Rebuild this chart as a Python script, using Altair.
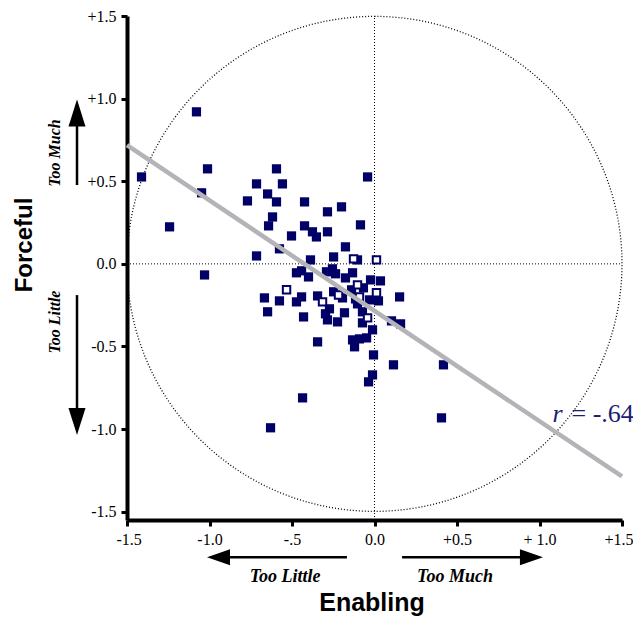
import altair as alt
import pandas as pd

# ---------------- data ----------------
enabling_filled = [-1.412, -1.079, -1.012, -1.048, -1.242, -1.030,
                   -0.715, -0.594, -0.558, -0.648, -0.770, -0.594, -0.424, -0.618, -0.642, -0.424,
                   -0.503, -0.376, -0.352, -0.285, -0.285, -0.200, -0.042, -0.085, -0.576, -0.715,
                   -0.176, -0.388, -0.248, -0.103,
                   -0.473, -0.442, -0.400, -0.291, -0.255, -0.236, -0.133, -0.176, -0.024, 0.036,
                   -0.576, -0.473, -0.442, -0.345, -0.248, -0.194, -0.139, -0.067, -0.115, -0.030,
                   0.024, -0.667, -0.648,
                   -0.430, -0.297, -0.273, -0.285, -0.224, -0.182, -0.103, -0.073, -0.073, 0.103,
                   0.152, 0.158,
                   -0.345, -0.133, -0.121, -0.091, -0.048, -0.012, -0.006, 0.115, -0.012, -0.036,
                   0.418, 0.406, -0.436, -0.630]
forceful_filled = [0.526, 0.920, 0.575, 0.430, 0.224, -0.067,
                   0.484, 0.575, 0.484, 0.423, 0.381, 0.375, 0.375, 0.284, 0.230, 0.230,
                   0.169, 0.194, 0.163, 0.194, 0.315, 0.345, 0.526, 0.236, 0.091, 0.048,
                   0.103, 0.024, 0.042, 0.024,
                   -0.054, -0.042, -0.079, -0.048, -0.030, -0.060, -0.054, -0.085, -0.097, -0.103,
                   -0.224, -0.230, -0.200, -0.194, -0.169, -0.206, -0.157, -0.145, -0.212, -0.218,
                   -0.224, -0.206, -0.290,
                   -0.321, -0.302, -0.272, -0.339, -0.351, -0.296, -0.242, -0.290, -0.357, -0.345,
                   -0.200, -0.363,
                   -0.472, -0.460, -0.502, -0.454, -0.448, -0.399, -0.551, -0.611, -0.672, -0.714,
                   -0.611, -0.932, -0.811, -0.992]
enabling_hollow = [-0.533, -0.315, -0.218, -0.103, -0.091, 0.012, -0.042, -0.127, 0.012]
forceful_hollow = [-0.157, -0.230, -0.188, -0.127, -0.200, -0.175, -0.327, 0.030, 0.024]

fit_x = [-1.5, 1.5]
fit_y = [0.718, -1.286]
r_label = "= -.64"

axis_ticks = [-1.5, -1.0, -0.5, 0.0, 0.5, 1.0, 1.5]
x_tick_labels = ["-1.5", "-1.0", "-.5", "0.0", "+0.5", "+ 1.0", "+1.5"]
y_tick_labels = ["-1.5", "-1.0", "-0.5", "0.0", "+0.5", "+1.0", "+1.5"]

# ---------------- helpers ----------------
NAVY = "#000066"
xs = alt.Scale(domain=[-1.5, 1.5], nice=False, zero=False)
ys = alt.Scale(domain=[-1.55, 1.5], nice=False, zero=False)


def lab_expr(labels):
    arr = "[" + ",".join("'" + s + "'" for s in labels) + "]"
    return arr + "[round((datum.value + 1.5) * 2)]"


axis_style = dict(title=None, grid=False, domainColor="black", domainWidth=4, tickColor="black",
                  tickWidth=3, tickSize=6, labelFont="Liberation Serif", labelFontSize=16,
                  labelColor="black", labelPadding=5, labelOverlap=False, labelBound=False)
x_axis = alt.Axis(values=axis_ticks, labelExpr=lab_expr(x_tick_labels), labelFlush=True,
                  labelFlushOffset=11, **axis_style)
y_axis = alt.Axis(values=axis_ticks, labelExpr=lab_expr(y_tick_labels), labelFlush=False,
                  **axis_style)


def X(field):
    return alt.X(field, type="quantitative", scale=xs, axis=x_axis)


def Y(field):
    return alt.Y(field, type="quantitative", scale=ys, axis=y_axis)


filled_df = pd.DataFrame({"x": enabling_filled, "y": forceful_filled})
hollow_df = pd.DataFrame({"x": enabling_hollow, "y": forceful_hollow})
fit_df = pd.DataFrame({"x": [fit_x[0]], "y": [fit_y[0]], "x2": [fit_x[1]], "y2": [fit_y[1]]})

guides_df = pd.DataFrame({"x": [0.0, -1.5], "y": [-1.55, 0.0], "x2": [0.0, 1.5], "y2": [1.5, 0.0]})
center_df = pd.DataFrame({"x": [0.0], "y": [0.0]})

guides = alt.Chart(guides_df).mark_rule(color="black", strokeWidth=1, strokeDash=[1, 2]).encode(
    x=X("x"), y=Y("y"), x2="x2", y2="y2")

circle = alt.Chart(center_df).mark_arc(
    filled=False, color="black", stroke="black", strokeWidth=1.3, strokeDash=[1, 2],
    radius=247.5, theta=0, theta2=6.2832).encode(x=X("x"), y=Y("y"))

points = alt.Chart(filled_df).mark_square(size=85, color=NAVY, opacity=1).encode(
    x=X("x"), y=Y("y"))

hollow = alt.Chart(hollow_df).mark_point(shape="square", size=55, filled=True, fill="white",
                                         stroke=NAVY, strokeWidth=2, opacity=1).encode(
    x=X("x"), y=Y("y"))

fit = alt.Chart(fit_df).mark_rule(color="#b4b4b8", strokeWidth=4.5).encode(
    x=X("x"), y=Y("y"), x2="x2", y2="y2")

r_df = pd.DataFrame({"x": [1.079], "y": [-0.958], "t": ["r"]})
r2_df = pd.DataFrame({"x": [1.194], "y": [-0.958], "t": [r_label]})
r_text = alt.Chart(r_df).mark_text(font="Liberation Serif", fontStyle="italic", fontSize=26,
                                   color="#1c1c70", align="left", baseline="alphabetic").encode(
    x=X("x"), y=Y("y"), text="t:N")
r2_text = alt.Chart(r2_df).mark_text(font="Liberation Serif", fontSize=26, color="#1c1c70",
                                     align="left", baseline="alphabetic", clip=False).encode(
    x=X("x"), y=Y("y"), text="t:N")

# ---------------- annotations ----------------
side_df = pd.DataFrame({"x": [-1.936, -1.936], "y": [0.671, -0.352], "t": ["Too Much", "Too Little"]})
side_text = alt.Chart(side_df).mark_text(font="Liberation Serif", fontStyle="italic", fontWeight="bold",
                                         fontSize=16, angle=270, align="center", baseline="middle",
                                         color="black", clip=False).encode(x=X("x"), y=Y("y"), text="t:N")

bottom_df = pd.DataFrame({"x": [-0.542, 0.488], "y": [-1.896, -1.896], "t": ["Too Little", "Too Much"]})
bottom_text = alt.Chart(bottom_df).mark_text(font="Liberation Serif", fontStyle="italic", fontWeight="bold",
                                             fontSize=18, align="center", baseline="middle",
                                             color="black", clip=False).encode(x=X("x"), y=Y("y"), text="t:N")

ytitle_df = pd.DataFrame({"x": [-2.118], "y": [0.114], "t": ["Forceful"]})
ytitle = alt.Chart(ytitle_df).mark_text(font="Liberation Sans", fontWeight="bold", fontSize=24, angle=270,
                                        align="center", baseline="middle", color="black", clip=False).encode(
    x=X("x"), y=Y("y"), text="t:N")

xtitle_df = pd.DataFrame({"x": [-0.015], "y": [-2.1], "t": ["Enabling"]})
xtitle = alt.Chart(xtitle_df).mark_text(font="Liberation Sans", fontWeight="bold", fontSize=25,
                                        align="center", baseline="alphabetic", color="black", clip=False).encode(
    x=X("x"), y=Y("y"), text="t:N")

shaft_df = pd.DataFrame({
    "x": [-1.803, -1.803, -0.167, 0.167],
    "y": [0.477, -0.189, -1.775, -1.775],
    "x2": [-1.803, -1.803, -0.95, 0.95],
    "y2": [0.90, -0.95, -1.775, -1.775],
})
shafts = alt.Chart(shaft_df).mark_rule(color="black", strokeWidth=2.5, clip=False).encode(
    x=X("x"), y=Y("y"), x2="x2", y2="y2")


def head(xv, yv, path, size):
    d = pd.DataFrame({"x": [xv], "y": [yv]})
    return alt.Chart(d).mark_point(shape=path, size=size, filled=True, color="black", opacity=1,
                                   clip=False).encode(x=X("x"), y=Y("y"))


heads = [
    head(-1.803, 0.995, "M0,0L-0.63,2L0.63,2Z", 729),
    head(-1.803, -1.036, "M0,0L-0.63,-2L0.63,-2Z", 729),
    head(-1.015, -1.775, "M0,0L2,-0.7L2,0.7Z", 529),
    head(1.021, -1.775, "M0,0L-2,-0.7L-2,0.7Z", 529),
]

chart = alt.layer(guides, circle, points, hollow, fit, r_text, r2_text,
                  side_text, bottom_text, ytitle, xtitle, shafts, *heads).properties(
    width=495, height=504,
    autosize=alt.AutoSizeParams(type="none"),
    padding={"left": 119, "top": 8, "right": 11, "bottom": 96},
).configure_view(stroke=None)

chart.save("out.html", embed_options={"renderer": "svg", "actions": False})
